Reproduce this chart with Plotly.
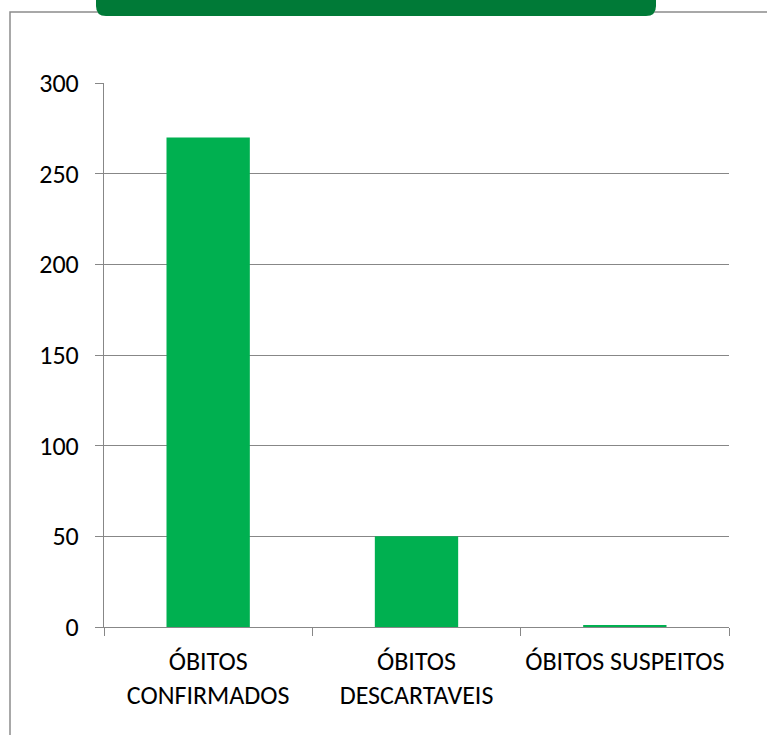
import plotly.graph_objects as go

categories = ["ÓBITOS CONFIRMADOS", "ÓBITOS DESCARTAVEIS", "ÓBITOS SUSPEITOS"]
tick_labels = ["ÓBITOS<br>CONFIRMADOS", "ÓBITOS<br>DESCARTAVEIS", "ÓBITOS SUSPEITOS"]
values = [270, 50, 1]
y_ticks = [0, 50, 100, 150, 200, 250, 300]

W, H = 767, 735
L, R, T, B = 104, 38, 83, 108
pw, ph = W - L - R, H - T - B

def px(x):
    return (x - L) / pw

def py(y):
    return (H - B - y) / ph

FONT = "Carlito"
GRID = "#878787"
GREEN = "#00B050"
HEADER = "#007A37"
FS = 26

fig = go.Figure(go.Bar(
    x=categories, y=values, marker=dict(color=GREEN, line=dict(width=0)),
    width=0.4,
))

x0, x1, yt, yb, r = 96, 656, -5, 16, 10
hp = (f"M {px(x0)} {py(yt)} L {px(x0)} {py(yb - r)} "
      f"Q {px(x0)} {py(yb)} {px(x0 + r)} {py(yb)} "
      f"L {px(x1 - r)} {py(yb)} Q {px(x1)} {py(yb)} {px(x1)} {py(yb - r)} "
      f"L {px(x1)} {py(yt)} Z")

shapes = [
    dict(type="rect", xref="paper", yref="paper", x0=px(10), x1=px(780),
         y0=py(760), y1=py(12), line=dict(color="#8c8c8c", width=1.5),
         fillcolor="rgba(0,0,0,0)", layer="below"),
    dict(type="path", xref="paper", yref="paper", path=hp,
         fillcolor=HEADER, line=dict(width=0), layer="above"),
]

fig.update_layout(
    width=W, height=H,
    margin=dict(l=L, r=R, t=T, b=B),
    paper_bgcolor="white", plot_bgcolor="white",
    showlegend=False,
    font=dict(family=FONT, size=FS, color="#000"),
    shapes=shapes,
)
fig.update_xaxes(
    type="category", tickmode="array", tickvals=categories, ticktext=tick_labels,
    showline=True, linecolor=GRID, linewidth=1,
    ticks="outside", ticklen=8, tickcolor=GRID, tickson="boundaries",
    showgrid=False, tickfont=dict(family=FONT, size=FS, color="#000"),
    ticklabelstandoff=11, tickangle=0, automargin=False,
)
fig.update_yaxes(
    range=[0, 300], tickmode="array", tickvals=y_ticks,
    showline=True, linecolor=GRID, linewidth=1,
    ticks="outside", ticklen=8, tickcolor=GRID,
    showgrid=True, gridcolor=GRID, gridwidth=1, zeroline=False,
    tickfont=dict(family=FONT, size=FS, color="#000"),
    ticklabelstandoff=11, automargin=False,
)

fig.write_html("out.html", post_script="document.body.style.margin='0';",
               config={"displayModeBar": False})
